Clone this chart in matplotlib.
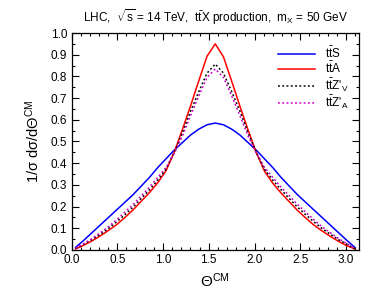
import numpy as np
import matplotlib
matplotlib.use("Agg")
import matplotlib.pyplot as plt
from matplotlib.ticker import MultipleLocator, FormatStrFormatter

plt.rcParams['font.family'] = ['Liberation Sans', 'DejaVu Sans']
plt.rcParams['mathtext.fontset'] = 'custom'
plt.rcParams['mathtext.rm'] = 'Liberation Sans'
plt.rcParams['mathtext.it'] = 'Liberation Sans'
plt.rcParams['mathtext.sf'] = 'Liberation Sans'

# bin centres of 35 bins on [0, pi]
theta = (np.arange(35) + 0.5) * np.pi / 35

ttS = [0.012, 0.045, 0.080, 0.115, 0.150, 0.185, 0.220, 0.255, 0.295, 0.335, 0.380, 0.420,
       0.460, 0.495, 0.530, 0.557, 0.577, 0.585, 0.577, 0.557, 0.530, 0.495, 0.460, 0.420,
       0.380, 0.335, 0.295, 0.255, 0.220, 0.185, 0.150, 0.115, 0.080, 0.045, 0.012]
ttA = [0.005, 0.022, 0.042, 0.065, 0.090, 0.117, 0.150, 0.185, 0.225, 0.265, 0.310, 0.365,
       0.450, 0.555, 0.665, 0.780, 0.893, 0.950, 0.890, 0.778, 0.663, 0.553, 0.448, 0.363,
       0.308, 0.263, 0.223, 0.183, 0.148, 0.115, 0.088, 0.063, 0.040, 0.020, 0.005]
ttZV = [0.006, 0.027, 0.048, 0.073, 0.099, 0.130, 0.163, 0.198, 0.238, 0.278, 0.322, 0.372,
        0.450, 0.540, 0.640, 0.730, 0.815, 0.857, 0.815, 0.730, 0.640, 0.540, 0.450, 0.372,
        0.322, 0.278, 0.238, 0.198, 0.163, 0.130, 0.099, 0.073, 0.048, 0.027, 0.006]
ttZA = [0.007, 0.030, 0.053, 0.080, 0.107, 0.140, 0.175, 0.210, 0.250, 0.290, 0.335, 0.380,
        0.445, 0.525, 0.620, 0.710, 0.795, 0.834, 0.795, 0.710, 0.620, 0.525, 0.445, 0.380,
        0.335, 0.290, 0.250, 0.210, 0.175, 0.140, 0.107, 0.080, 0.053, 0.030, 0.007]

labels = [r"$t\bar{t}$S", r"$t\bar{t}$A", r"$t\bar{t}$Z$'_V$", r"$t\bar{t}$Z$'_A$"]

fig = plt.figure(figsize=(3.82, 3.06), dpi=100)
ax = fig.add_axes([71.5/382, (306-250)/306, (359-71.5)/382, (250-33)/306])

ax.plot(theta, ttS, color='#0000ff', lw=1.1, label=labels[0])
ax.plot(theta, ttA, color='#ff0000', lw=1.1, label=labels[1])
ax.plot(theta, ttZV, color='black', lw=1.1, ls=(0, (1.2, 1.6)), label=labels[2])
ax.plot(theta, ttZA, color='#cc00cc', lw=1.1, ls=(0, (1.2, 1.6)), label=labels[3])

ax.set_xlim(0, np.pi)
ax.set_ylim(0, 1.0)
ax.xaxis.set_major_locator(MultipleLocator(0.5))
ax.xaxis.set_minor_locator(MultipleLocator(0.1))
ax.yaxis.set_major_locator(MultipleLocator(0.1))
ax.yaxis.set_minor_locator(MultipleLocator(0.05))
ax.xaxis.set_major_formatter(FormatStrFormatter('%.1f'))
ax.yaxis.set_major_formatter(FormatStrFormatter('%.1f'))
ax.tick_params(which='both', direction='in', top=True, right=True, labelsize=8.5, width=0.8)
ax.tick_params(which='major', length=5, pad=3)
ax.tick_params(which='minor', length=2.5)
for s in ax.spines.values():
    s.set_linewidth(0.9)

ax.set_xlabel(r"$\Theta^{\mathregular{CM}}$", fontsize=11, labelpad=4)
ax.set_ylabel(r"1/$\sigma$ d$\sigma$/d$\Theta^{\mathregular{CM}}$", fontsize=10.5, labelpad=6)
ax.set_title(r"LHC,  $\sqrt{s}$ = 14 TeV,  $t\bar{t}$X production,  m$_X$ = 50 GeV",
             fontsize=8.5, pad=8)

ax.legend(loc='upper right', frameon=False, fontsize=8.5, handlelength=3.2,
          handletextpad=0.8, labelspacing=0.0, borderaxespad=0.5,
          bbox_to_anchor=(1.0, 0.99))

fig.savefig("out.png", dpi=100)
